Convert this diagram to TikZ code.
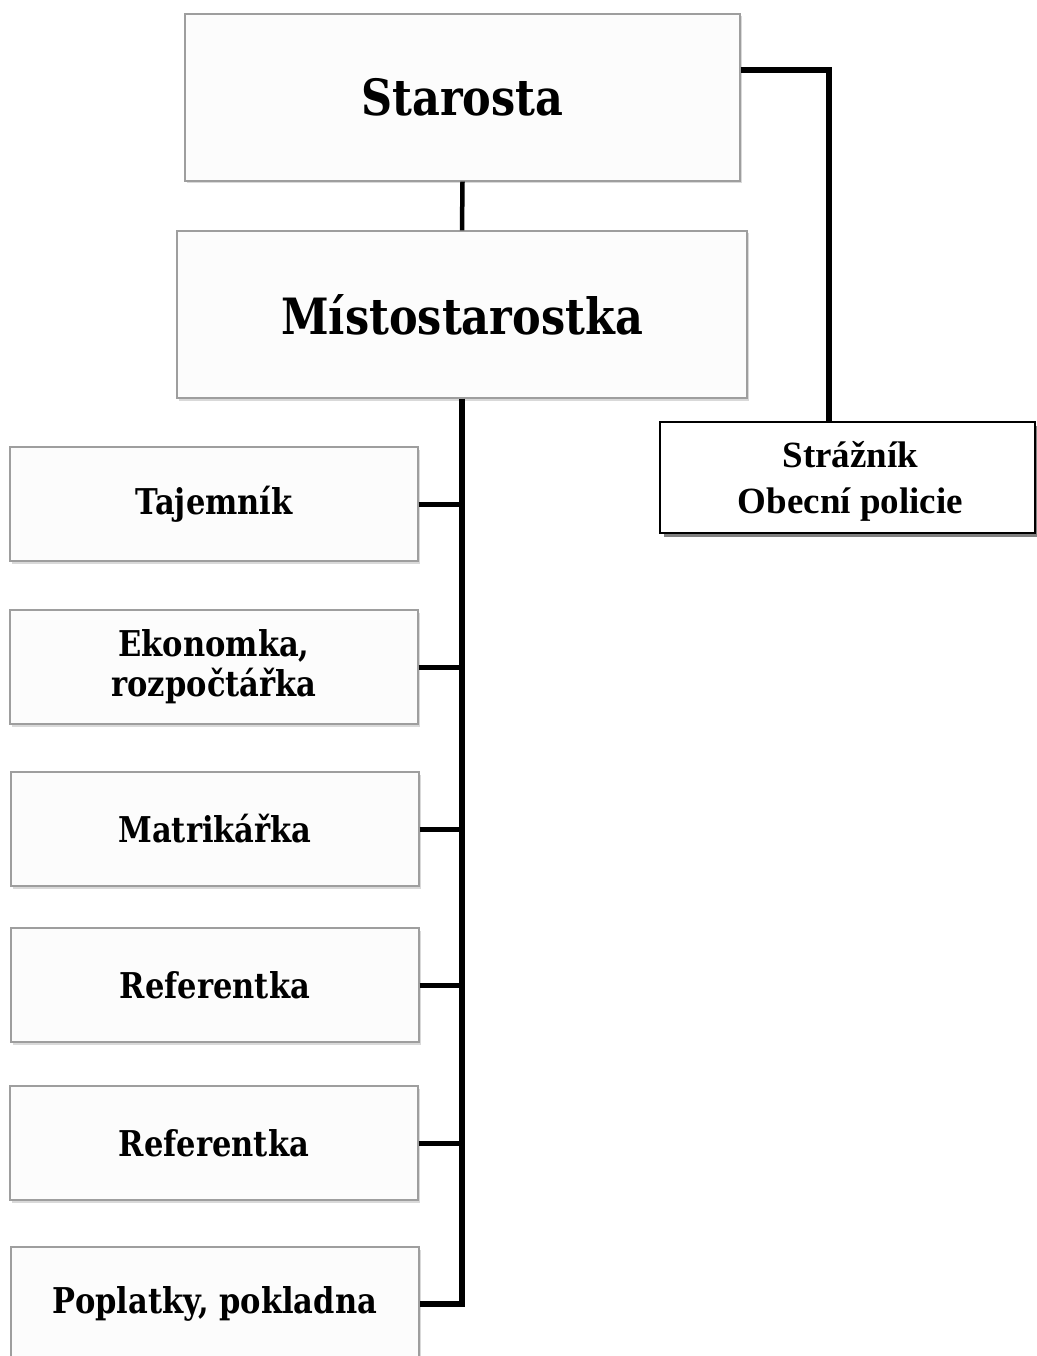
\documentclass[tikz,border=0pt]{standalone}
\usepackage{fontspec}
\setmainfont{DejaVu Serif}[FakeStretch=0.86]
\newfontfamily\timesfont{Liberation Serif}
\usetikzlibrary{shadows}
\begin{document}
\begin{tikzpicture}[x=1pt,y=1pt,
  gbox/.style={draw=black!38, line width=1.3pt, fill=black!1, align=center,
    font=\bfseries, inner sep=0pt,
    drop shadow={shadow xshift=1.5pt, shadow yshift=-2.5pt, opacity=0.25, fill=black!60}},
  topbox/.style={gbox, minimum height=167pt, font=\fontsize{50}{56}\selectfont\bfseries},
  childbox/.style={gbox, minimum width=408pt, minimum height=114pt, font=\fontsize{35.5}{40}\selectfont\bfseries},
  polbox/.style={draw=black, line width=1.6pt, fill=white, inner sep=0pt,
    minimum width=375pt, minimum height=111pt,
    drop shadow={shadow xshift=4pt, shadow yshift=-4pt, opacity=1, fill=black!50}},
  poltext/.style={align=center, inner sep=0pt, font=\timesfont\fontsize{37}{46}\selectfont\bfseries},
  conn/.style={draw=black, line width=5.5pt},
]
\useasboundingbox (0,0) rectangle (1036,-1356);
\node[topbox, minimum width=555pt] (star) at (462.5,-97.5) {Starosta};
\node[topbox, minimum width=570pt] (mist) at (462,-314.5) {Místostarostka};
\node[childbox] (taj) at (214,-504) {Tajemník};
\node[childbox] (eko) at (214,-667) {Ekonomka,\\rozpočtářka};
\node[childbox] (mat) at (215,-829) {Matrikářka};
\node[childbox] (ref1) at (215,-985) {Referentka};
\node[childbox] (ref2) at (214,-1143) {Referentka};
\node[childbox] (pop) at (215,-1304) {Poplatky, pokladna};
\node[polbox] (straz) at (847.5,-477.5) {};
\node[poltext] (straztext) at ([xshift=3pt,yshift=-3.5pt]straz.center) {Strážník\\Obecní policie};
\draw[conn, line width=4.5pt] (star.south) -- (mist.north);
\draw[conn] (mist.south) |- (pop.east);
\foreach \c in {taj,eko,mat,ref1,ref2}
  \draw[conn, line width=5pt] (\c.east) -- (\c.east -| mist.south);
\draw[conn] ([yshift=27.5pt]star.east) -| ([xshift=-18.5pt]straz.north);
\end{tikzpicture}
\end{document}
